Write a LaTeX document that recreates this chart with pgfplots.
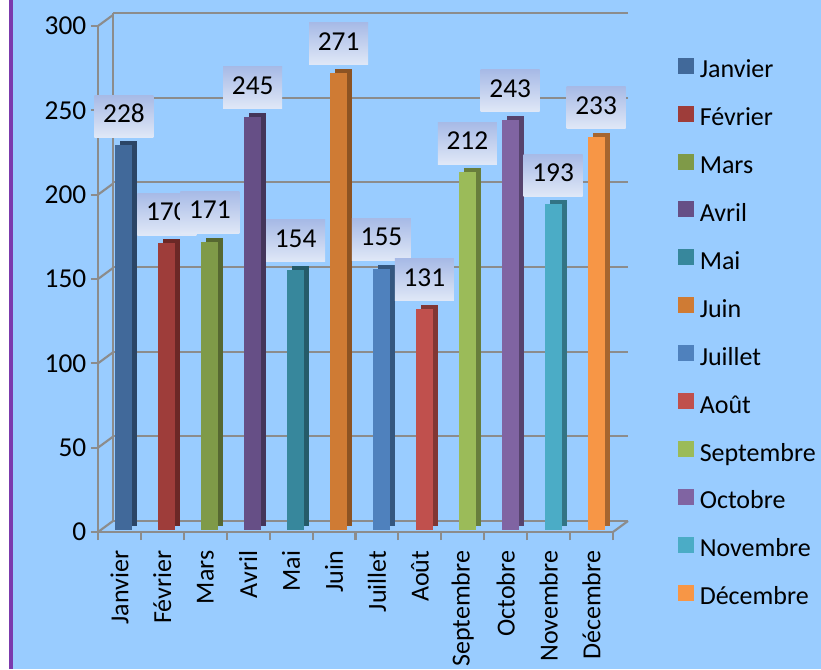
\documentclass[border=0pt]{standalone}
\usepackage{pgfplots}
\pgfplotsset{compat=1.18}
\usepackage{fontspec}
\setmainfont{Carlito}
\definecolor{bg}{HTML}{99CCFF}
\definecolor{frame}{HTML}{7B3AAD}
\definecolor{gridc}{HTML}{8C8C8C}
\definecolor{labtop}{HTML}{A7BAE6}
\definecolor{labbot}{HTML}{E0E8F7}
\definecolor{c1}{HTML}{41699A}\definecolor{s1}{HTML}{2B4566}
\definecolor{c2}{HTML}{9E3D3A}\definecolor{s2}{HTML}{6B2826}
\definecolor{c3}{HTML}{7F9A48}\definecolor{s3}{HTML}{566831}
\definecolor{c4}{HTML}{664F86}\definecolor{s4}{HTML}{44355A}
\definecolor{c5}{HTML}{37879C}\definecolor{s5}{HTML}{255B69}
\definecolor{c6}{HTML}{CF7B34}\definecolor{s6}{HTML}{8C5323}
\definecolor{c7}{HTML}{4F81BD}\definecolor{s7}{HTML}{34577F}
\definecolor{c8}{HTML}{C0504D}\definecolor{s8}{HTML}{813634}
\definecolor{c9}{HTML}{9BBB59}\definecolor{s9}{HTML}{687E3C}
\definecolor{c10}{HTML}{8064A2}\definecolor{s10}{HTML}{56436D}
\definecolor{c11}{HTML}{4BACC6}\definecolor{s11}{HTML}{327485}
\definecolor{c12}{HTML}{F79646}\definecolor{s12}{HTML}{A6652F}
\newcommand\fsz{\fontsize{20.5pt}{24pt}\selectfont}
\newcommand\fsw{\fontsize{19.5pt}{23pt}\selectfont}
\pgfplotsset{
  front/.style={fill=#1, draw=none, bar shift=3.4pt, yshift=1.5pt, forget plot, nodes near coords},
  side/.style={fill=#1, draw=none, bar shift=7.15pt, yshift=4.5pt, forget plot},
  sq/.style={legend image code/.code={\fill[#1] (0pt,-1.5pt) rectangle (11.25pt,9.75pt);}},
}
\begin{document}
\begin{tikzpicture}[x=0.75pt,y=0.75pt]
\fill[white] (0,0) rectangle (821,669);
\fill[bg] (13,0) rectangle (821,669);
\fill[frame] (9,0) rectangle (13,669);
% back wall
\begin{axis}[at={(84.75pt,111pt)}, anchor=south west, scale only axis,
  width=386.25pt, height=381pt, xmin=0, xmax=1, ymin=0, ymax=300,
  ytick={0,50,...,300}, xtick=\empty, yticklabels={}, major tick length=0pt,
  ymajorgrids, grid style={gridc, line width=1.6pt},
  axis x line*=bottom, axis y line*=left,
  axis line style={gridc, line width=1.6pt}]
\addplot[draw=none] coordinates {(0,0)};
\end{axis}
% front
\begin{axis}[at={(73.5pt,102.75pt)}, anchor=south west, scale only axis,
  width=386.25pt, height=379.5pt, xmin=-0.5, xmax=11.5, ymin=0, ymax=300,
  ybar, bar width=12.75pt,
  axis x line*=bottom, axis y line*=left,
  axis line style={gridc, line width=1.6pt},
  ytick={0,50,...,300}, xtick={0,...,11},
  xticklabels={Janvier,Février,Mars,Avril,Mai,Juin,Juillet,Août,Septembre,Octobre,Novembre,Décembre},
  minor xtick={-0.5,0.5,...,11.5},
  tick align=outside, major tick length=5.25pt, minor tick length=6pt,
  every major x tick/.append style={draw=none},
  every minor x tick/.append style={gridc, line width=1.6pt},
  every major y tick/.append style={gridc, line width=1.6pt},
  /pgf/number format/assume math mode=true,
  yticklabel style={font=\fsz, text=black},
  xticklabel style={rotate=90, anchor=east, font=\fsw, text=black},
  xticklabel shift=5.25pt,
  every node near coord/.append style={anchor=south, yshift=6pt,
    top color=labtop, bottom color=labbot, minimum width=44.25pt,
    minimum height=31.5pt, text height=14pt, text depth=4pt, inner sep=0pt, text=black, font=\fsz},
  legend style={at={(axis description cs:1.1262,0.938)}, anchor=north west,
    draw=none, fill=none, inner sep=0pt, row sep=17pt, font=\fsw,
    nodes={inner sep=0pt, text height=14pt, text depth=4pt},
    /tikz/every odd column/.append style={column sep=4.5pt}},
  legend cell align=left,
  clip=false]
\pgfplotsinvokeforeach{0,50,...,300}{\draw[gridc, line width=1.6pt] (axis cs:-0.5,#1) -- ++(11.25pt,8.25pt);}
\draw[gridc, line width=1.6pt] (axis cs:11.5,0) -- ++(11.25pt,8.25pt);
\addplot[side=s1] coordinates {(0,228)};
\addplot[front=c1] coordinates {(0,228)};
\addplot[side=s2] coordinates {(1,170)};
\addplot[front=c2] coordinates {(1,170)};
\addplot[side=s3] coordinates {(2,171)};
\addplot[front=c3] coordinates {(2,171)};
\addplot[side=s4] coordinates {(3,245)};
\addplot[front=c4] coordinates {(3,245)};
\addplot[side=s5] coordinates {(4,154)};
\addplot[front=c5] coordinates {(4,154)};
\addplot[side=s6] coordinates {(5,271)};
\addplot[front=c6] coordinates {(5,271)};
\addplot[side=s7] coordinates {(6,155)};
\addplot[front=c7] coordinates {(6,155)};
\addplot[side=s8] coordinates {(7,131)};
\addplot[front=c8] coordinates {(7,131)};
\addplot[side=s9] coordinates {(8,212)};
\addplot[front=c9] coordinates {(8,212)};
\addplot[side=s10] coordinates {(9,243)};
\addplot[front=c10] coordinates {(9,243)};
\addplot[side=s11] coordinates {(10,193)};
\addplot[front=c11] coordinates {(10,193)};
\addplot[side=s12] coordinates {(11,233)};
\addplot[front=c12] coordinates {(11,233)};
\addlegendimage{sq=c1}\addlegendentry{Janvier}
\addlegendimage{sq=c2}\addlegendentry{Février}
\addlegendimage{sq=c3}\addlegendentry{Mars}
\addlegendimage{sq=c4}\addlegendentry{Avril}
\addlegendimage{sq=c5}\addlegendentry{Mai}
\addlegendimage{sq=c6}\addlegendentry{Juin}
\addlegendimage{sq=c7}\addlegendentry{Juillet}
\addlegendimage{sq=c8}\addlegendentry{Août}
\addlegendimage{sq=c9}\addlegendentry{Septembre}
\addlegendimage{sq=c10}\addlegendentry{Octobre}
\addlegendimage{sq=c11}\addlegendentry{Novembre}
\addlegendimage{sq=c12}\addlegendentry{Décembre}
\end{axis}
\pgfresetboundingbox
\path[use as bounding box] (0,0) rectangle (821,669);
\end{tikzpicture}
\end{document}
